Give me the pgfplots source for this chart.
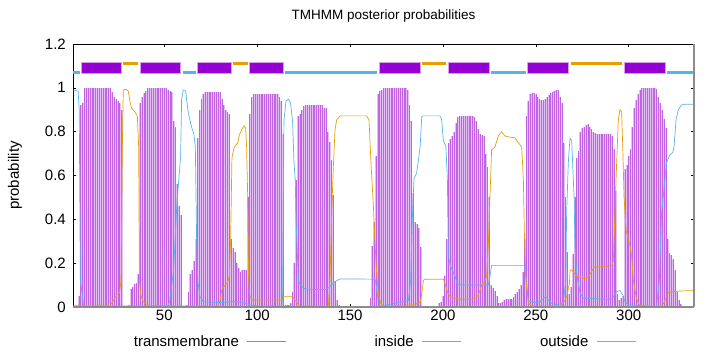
\documentclass[border=0pt]{standalone}
\usepackage{pgfplots}
\usepackage{pgfplotstable}
\pgfplotsset{compat=1.18}
\usepackage{fontspec}
\setmainfont{Liberation Sans}
\definecolor{tmline}{RGB}{192,100,226}
\definecolor{tmlight}{RGB}{228,190,244}
\definecolor{tmbox}{RGB}{148,0,211}
\definecolor{tmedge}{RGB}{214,160,236}
\definecolor{insidec}{RGB}{86,180,233}
\definecolor{outsidec}{RGB}{230,159,0}
\definecolor{framegray}{RGB}{140,140,140}
\newcommand{\ff}{\fontsize{15bp}{18bp}\selectfont}
\newcommand{\tf}{\fontsize{13.5bp}{16bp}\selectfont}

\pgfplotstableread[row sep=\\]{
x y\\
4 0.05\\ 5 0.92\\ 6 0.93\\ 7 1\\ 8 1\\ 9 1\\ 10 1\\ 11 1\\ 12 1\\ 13 1\\ 14 1\\ 15 1\\ 16 1\\ 17 1\\ 18 1\\ 19 1\\ 20 1\\ 21 1\\
22 0.98\\ 23 0.96\\ 24 0.95\\ 25 0.94\\ 26 0.93\\ 27 0.90\\
31 0.01\\ 32 0.08\\ 33 0.09\\ 34 0.105\\ 35 0.11\\ 36 0.15\\ 37 0.93\\ 38 0.96\\ 39 0.975\\ 40 0.985\\
41 1\\ 42 1\\ 43 1\\ 44 1\\ 45 1\\ 46 1\\ 47 1\\ 48 1\\ 49 1\\ 50 1\\ 51 1\\
52 0.99\\ 53 0.985\\ 54 0.98\\ 55 0.85\\ 56 0.82\\ 57 0.56\\ 58 0.46\\ 59 0.42\\
62 0.01\\ 63 0.07\\ 64 0.15\\ 65 0.17\\ 66 0.21\\ 67 0.31\\ 68 0.77\\ 69 0.90\\ 70 0.95\\ 71 0.97\\
72 0.98\\ 73 0.98\\ 74 0.98\\ 75 0.98\\ 76 0.98\\ 77 0.98\\ 78 0.98\\ 79 0.98\\ 80 0.98\\
81 0.95\\ 82 0.92\\ 83 0.90\\ 84 0.89\\ 85 0.88\\ 86 0.31\\ 87 0.27\\ 88 0.25\\ 89 0.20\\ 90 0.18\\
91 0.16\\ 92 0.17\\ 93 0.17\\ 94 0.17\\ 95 0.50\\ 96 0.88\\ 97 0.96\\
98 0.97\\ 99 0.97\\ 100 0.97\\ 101 0.97\\ 102 0.97\\ 103 0.97\\ 104 0.97\\ 105 0.97\\ 106 0.97\\ 107 0.97\\ 108 0.97\\ 109 0.97\\ 110 0.97\\ 111 0.97\\
112 0.96\\ 113 0.94\\ 114 0.79\\ 115 0.01\\ 116 0.01\\ 117 0.01\\ 118 0.02\\ 119 0.07\\ 120 0.20\\
121 0.58\\ 122 0.87\\ 123 0.88\\ 124 0.90\\ 125 0.915\\
126 0.92\\ 127 0.92\\ 128 0.92\\ 129 0.92\\ 130 0.92\\ 131 0.92\\ 132 0.92\\ 133 0.92\\ 134 0.92\\ 135 0.92\\
136 0.91\\ 137 0.91\\ 138 0.80\\ 139 0.755\\ 140 0.67\\ 141 0.51\\ 142 0.12\\ 143 0.03\\ 144 0.01\\
161 0.04\\ 162 0.28\\ 163 0.39\\ 164 0.69\\ 165 0.97\\ 166 0.985\\ 167 0.99\\
168 1\\ 169 1\\ 170 1\\ 171 1\\ 172 1\\ 173 1\\ 174 1\\ 175 1\\ 176 1\\ 177 1\\ 178 1\\ 179 1\\ 180 1\\
181 0.99\\ 182 0.92\\ 183 0.85\\ 184 0.52\\ 185 0.39\\ 186 0.38\\ 187 0.36\\ 188 0.275\\
198 0.02\\ 199 0.024\\ 200 0.05\\ 201 0.14\\ 202 0.31\\ 203 0.75\\ 204 0.765\\ 205 0.78\\ 206 0.80\\ 207 0.84\\ 208 0.866\\
209 0.87\\ 210 0.87\\ 211 0.87\\ 212 0.87\\ 213 0.87\\ 214 0.87\\ 215 0.87\\ 216 0.87\\
217 0.865\\ 218 0.85\\ 219 0.81\\ 220 0.79\\ 221 0.785\\ 222 0.78\\ 223 0.70\\ 224 0.64\\ 225 0.50\\
226 0.10\\ 227 0.085\\ 228 0.075\\ 229 0.05\\ 230 0.02\\ 231 0.02\\ 232 0.025\\ 233 0.03\\ 234 0.036\\ 235 0.036\\
236 0.038\\ 237 0.038\\ 238 0.047\\ 239 0.06\\ 240 0.068\\ 241 0.08\\ 242 0.10\\ 243 0.16\\ 244 0.31\\
245 0.87\\ 246 0.94\\ 247 0.97\\ 248 0.975\\ 249 0.976\\ 250 0.97\\ 251 0.957\\ 252 0.95\\ 253 0.945\\ 254 0.945\\
255 0.95\\ 256 0.96\\ 257 0.968\\ 258 0.975\\ 259 0.983\\ 260 0.986\\ 261 0.988\\ 262 0.988\\ 263 0.96\\ 264 0.93\\
265 0.75\\ 266 0.50\\ 267 0.25\\ 268 0.06\\ 269 0.09\\ 270 0.24\\ 271 0.50\\ 272 0.68\\ 273 0.71\\ 274 0.80\\
275 0.816\\ 276 0.82\\ 277 0.83\\ 278 0.834\\ 279 0.82\\ 280 0.81\\ 281 0.80\\ 282 0.795\\
283 0.79\\ 284 0.79\\ 285 0.79\\ 286 0.79\\ 287 0.79\\ 288 0.79\\ 289 0.79\\ 290 0.79\\
291 0.778\\ 292 0.72\\ 293 0.53\\ 294 0.06\\ 295 0.03\\ 296 0.04\\ 297 0.05\\ 298 0.63\\ 299 0.65\\ 300 0.69\\
301 0.72\\ 302 0.82\\ 303 0.907\\ 304 0.945\\ 305 0.973\\ 306 0.99\\ 307 0.998\\
308 1\\ 309 1\\ 310 1\\ 311 1\\ 312 1\\ 313 1\\ 314 1\\
315 0.995\\ 316 0.96\\ 317 0.93\\ 318 0.90\\ 319 0.86\\ 320 0.816\\ 321 0.31\\ 322 0.245\\ 323 0.237\\ 324 0.22\\
325 0.169\\ 326 0.07\\ 327 0.03\\ 328 0.014\\
}\tmdata

\begin{document}
\begin{tikzpicture}
\path[use as bounding box] (-73.3bp,-45bp) rectangle (646.7bp,307bp);
\begin{axis}[
  scale only axis, width=620.4bp, height=263bp,
  xmin=1, xmax=335, ymin=0, ymax=1.2,
  clip=false,
  axis line style={black, line width=0.8bp},
  tick align=inside, major tick length=3bp,
  every tick/.style={black, line width=0.6bp},
  xtick={50,100,150,200,250,300},
  xticklabels={50,100,150,200,250,300},
  ytick={0,0.2,0.4,0.6,0.8,1,1.2},
  yticklabels={0,0.2,0.4,0.6,0.8,1,1.2},
  tick label style={font=\ff},
  yticklabel style={xshift=-4bp},
  title={TMHMM posterior probabilities},
  title style={at={(axis description cs:0.5,1.0722)}, anchor=base, font=\tf},
  ylabel={probability},
  ylabel style={at={(axis description cs:-0.094,0.5)}, anchor=center, font=\ff},
  legend style={at={(axis description cs:0.5,-0.132)}, anchor=center, draw=none, fill=none,
    font=\ff, nodes={inner xsep=0pt},
    /tikz/every even column/.append style={column sep=19bp}},
  legend columns=3,
  legend plot pos=right,
  legend cell align=right,
]
\addplot[ycomb, draw=tmlight, line width=1.86bp, forget plot] table {\tmdata};
\addplot[ycomb, draw=tmline, line width=0.62bp,
  legend image code/.code={\draw[tmline, line width=0.8bp] (0bp,0bp) -- (39bp,0bp);}] table {\tmdata};
\addlegendentry{\makebox[116bp][r]{transmembrane\hspace{8bp}}}

\addplot[insidec, line width=0.7bp,
  legend image code/.code={\draw[insidec, line width=0.7bp] (0bp,0bp) -- (39bp,0bp);}] coordinates {
(1,0.99) (3.6,0.985) (4.2,0.9) (4.8,0.12) (5.6,0.07) (6.5,0.005) (52,0.005) (53,0.03) (55,0.17)
(56.7,0.46) (57.5,0.55) (58.8,0.69) (59.3,0.945) (60.2,0.99) (61.5,0.985) (62.9,0.885) (64.7,0.82)
(65.9,0.79) (66.7,0.73) (67.4,0.3) (68,0.12) (69.2,0.047) (71,0.024) (80,0.02) (88,0.025) (92,0.022)
(96,0.01) (100,0.005) (113.3,0.005) (113.7,0.06) (114.4,0.85) (115.5,0.94) (116.8,0.948) (118,0.93)
(119.1,0.84) (119.8,0.66) (120.5,0.58) (120.9,0.40) (122.2,0.12) (123.1,0.105) (124.9,0.085)
(128.4,0.08) (137.4,0.08) (139.2,0.093) (141.9,0.116) (144.6,0.128) (163.4,0.127) (163.9,0.11)
(165.2,0.024) (166.1,0.003) (181.4,0.03) (182.6,0.12) (183.5,0.40) (184.4,0.587) (185.8,0.61)
(186.8,0.67) (187.7,0.73) (188.6,0.87) (189.4,0.872) (198.4,0.872) (199.3,0.855) (200.2,0.762)
(201.6,0.73) (202.4,0.58) (202.9,0.23) (204.2,0.184) (206.5,0.14) (207.7,0.108) (209.1,0.1)
(224.4,0.1) (224.9,0.12) (226.2,0.19) (243.8,0.19) (244.2,0.17) (246,0.03) (248.7,0.02) (252.3,0.024)
(255,0.047) (255.9,0.04) (258.5,0.017) (261.2,0.01) (264.8,0.017) (266.1,0.12) (266.6,0.43)
(267.5,0.66) (268.4,0.77) (269.3,0.76) (270.6,0.5) (271.1,0.275) (272,0.154) (273.8,0.062)
(275.6,0.04) (290,0.035) (291.7,0.047) (293.5,0.07) (295.3,0.075) (296.8,0.055) (298,0.024)
(299.8,0.01) (315,0.002) (316.5,0.12) (317.7,0.43) (319.5,0.58) (320.4,0.66) (322.2,0.694)
(323.7,0.705) (324.4,0.73) (325.5,0.854) (326.7,0.9) (328.5,0.922) (330.3,0.925) (335,0.925)};
\addlegendentry{\makebox[116bp][r]{inside\hspace{8bp}}}

\addplot[outsidec, line width=0.7bp,
  legend image code/.code={\draw[outsidec, line width=0.7bp] (0bp,0bp) -- (39bp,0bp);}] coordinates {
(1,0.008) (21,0.008) (22.6,0.03) (24.4,0.055) (25.8,0.062) (26.7,0.12) (27.4,0.73) (27.9,0.99)
(29.4,0.994) (30.6,0.985) (31.5,0.937) (32.4,0.907) (34.2,0.89) (35.5,0.87) (36.2,0.73) (36.6,0.12)
(37.3,0.055) (38.7,0.024) (40.9,0.01) (42.3,0.005) (79.1,0.005) (80,0.03) (80.9,0.078) (82.7,0.1)
(83.9,0.108) (85,0.14) (85.7,0.306) (86.4,0.68) (87.5,0.725) (88.6,0.74) (89.5,0.747) (90.4,0.785)
(91.7,0.81) (92.9,0.826) (93.8,0.816) (94.3,0.73) (94.9,0.5) (95.4,0.12) (96.1,0.047) (97.5,0.032)
(113.2,0.032) (114.1,0.047) (119.1,0.047) (120.4,0.032) (122.2,0.01) (123.1,0.005) (138.3,0.005)
(139.2,0.12) (140.1,0.43) (141,0.64) (141.9,0.81) (142.8,0.854) (144.6,0.872) (158.9,0.872)
(160.2,0.854) (161.3,0.65) (162.5,0.47) (163.4,0.3) (164.3,0.154) (165.2,0.062) (166.5,0.017)
(167.9,0.005) (184.7,0.01) (187.8,0.024) (188.6,0.062) (189.5,0.12) (190,0.127) (200.3,0.127)
(201.6,0.093) (202.7,0.062) (203.9,0.047) (205.7,0.04) (210.2,0.035) (215.6,0.035) (217.3,0.04)
(219.1,0.055) (220.9,0.1) (222.6,0.116) (223.5,0.14) (224.4,0.275) (225.3,0.5) (226.2,0.717)
(228,0.73) (229.8,0.78) (231.6,0.8) (233.4,0.78) (236.1,0.775) (238.8,0.772) (239.7,0.76)
(241.5,0.74) (242.4,0.73) (243.3,0.58) (243.8,0.35) (244.7,0.12) (246,0.017) (248.7,0.005)
(263.1,0.005) (264.8,0.017) (266.6,0.047) (268.1,0.108) (268.4,0.166) (269.3,0.17) (272,0.14)
(275.6,0.13) (277.4,0.13) (279.2,0.15) (281,0.177) (282.8,0.184) (288.1,0.184) (290.9,0.19)
(291.7,0.207) (292.6,0.43) (293.5,0.655) (294.4,0.854) (295.3,0.9) (296.2,0.89) (296.8,0.73)
(297.5,0.5) (298.6,0.35) (300.8,0.275) (301.6,0.23) (302.5,0.123) (304,0.047) (305.2,0.017)
(307,0.005) (316.9,0.005) (318.7,0.014) (320.4,0.047) (321.5,0.068) (324,0.07) (327.6,0.073) (335,0.075)};
\addlegendentry{\makebox[116bp][r]{outside\hspace{8bp}}}

% predicted topology bars
\addplot[insidec, line width=2.5bp, forget plot] coordinates {(1,1.071) (4.4,1.071)};
\addplot[insidec, line width=2.5bp, forget plot] coordinates {(59.9,1.071) (67.1,1.071)};
\addplot[insidec, line width=2.5bp, forget plot] coordinates {(115,1.071) (164.7,1.071)};
\addplot[insidec, line width=2.5bp, forget plot] coordinates {(225.9,1.071) (244.5,1.071)};
\addplot[insidec, line width=2.5bp, forget plot] coordinates {(320.6,1.071) (335,1.071)};
\addplot[outsidec, line width=2.5bp, forget plot] coordinates {(27.9,1.112) (36.0,1.112)};
\addplot[outsidec, line width=2.5bp, forget plot] coordinates {(86.8,1.112) (94.9,1.112)};
\addplot[outsidec, line width=2.5bp, forget plot] coordinates {(188.7,1.112) (201.6,1.112)};
\addplot[outsidec, line width=2.5bp, forget plot] coordinates {(268.8,1.112) (296.6,1.112)};
\addplot[fill=tmbox, draw=tmedge, line width=0.7bp, forget plot] coordinates {(5.15,1.0653) (26.8,1.0653) (26.8,1.1155) (5.15,1.1155)} -- cycle;
\addplot[fill=tmbox, draw=tmedge, line width=0.7bp, forget plot] coordinates {(36.9,1.0653) (58.8,1.0653) (58.8,1.1155) (36.9,1.1155)} -- cycle;
\addplot[fill=tmbox, draw=tmedge, line width=0.7bp, forget plot] coordinates {(68.0,1.0653) (85.9,1.0653) (85.9,1.1155) (68.0,1.1155)} -- cycle;
\addplot[fill=tmbox, draw=tmedge, line width=0.7bp, forget plot] coordinates {(95.8,1.0653) (113.9,1.0653) (113.9,1.1155) (95.8,1.1155)} -- cycle;
\addplot[fill=tmbox, draw=tmedge, line width=0.7bp, forget plot] coordinates {(165.7,1.0653) (187.8,1.0653) (187.8,1.1155) (165.7,1.1155)} -- cycle;
\addplot[fill=tmbox, draw=tmedge, line width=0.7bp, forget plot] coordinates {(202.7,1.0653) (224.8,1.0653) (224.8,1.1155) (202.7,1.1155)} -- cycle;
\addplot[fill=tmbox, draw=tmedge, line width=0.7bp, forget plot] coordinates {(245.6,1.0653) (267.7,1.0653) (267.7,1.1155) (245.6,1.1155)} -- cycle;
\addplot[fill=tmbox, draw=tmedge, line width=0.7bp, forget plot] coordinates {(297.5,1.0653) (319.7,1.0653) (319.7,1.1155) (297.5,1.1155)} -- cycle;

\draw[framegray, line width=2bp] (rel axis cs:0,0) -- (rel axis cs:1,0);
\draw[framegray, line width=2bp] (rel axis cs:1,0) -- (rel axis cs:1,1);
\end{axis}
\end{tikzpicture}
\end{document}
